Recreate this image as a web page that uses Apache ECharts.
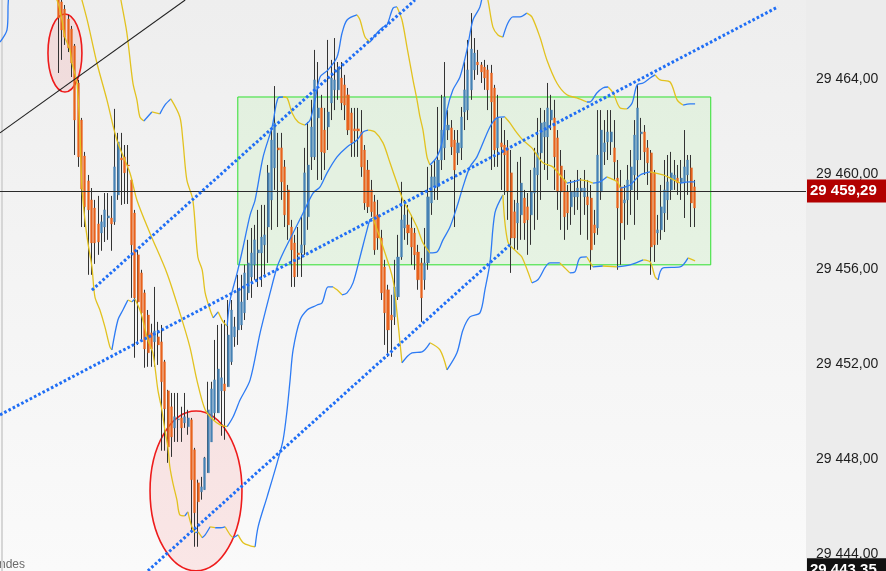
<!DOCTYPE html>
<html><head><meta charset="utf-8">
<script src="https://cdn.jsdelivr.net/npm/echarts@6/dist/echarts.min.js"></script>
<style>html,body{margin:0;padding:0;background:#ececec}#c{width:886px;height:571px}</style>
</head><body><div id="c"></div>
<script>
// ---------- DATA ----------
const SLOTS = 242;            // time slots across the plot
const firstCandle = 17;       // slot of first candle
const open = [
29467.74,29467.24,29466.94,29466.52,29466.10,29465.39,29463.83,29462.27,29460.76,29459.71,
29458.91,29458.57,29457.90,29457.52,29457.77,29458.15,29458.15,29457.99,29459.12,29460.68,
29460.72,29460.38,29459.75,29458.36,29456.60,29455.84,29455.00,29454.07,29453.32,29452.94,
29453.15,29452.94,29452.10,29450.88,29450.21,29449.32,29449.66,29449.74,29449.53,29449.37,
29449.66,29448.40,29447.01,29446.63,29446.72,29447.43,29448.73,29449.95,29449.95,29450.88,
29451.17,29451.05,29452.10,29453.15,29453.44,29453.65,29454.16,29455.00,29455.67,29456.18,
29456.68,29456.68,29457.02,29457.77,29458.91,29460.26,29461.10,29461.10,29460.30,29459.33,
29457.77,29457.10,29456.68,29456.68,29457.02,29458.20,29460.72,29460.72,29462.36,29462.78,
29461.85,29461.98,29462.99,29463.54,29463.54,29464.04,29463.75,29463.33,29462.57,29461.90,
29461.90,29461.77,29461.01,29460.17,29459.33,29458.83,29458.28,29457.31,29456.09,29455.13,
29454.07,29453.99,29454.83,29456.51,29457.73,29457.86,29457.73,29457.52,29456.72,29456.26,
29455.55,29456.26,29458.78,29459.46,29459.46,29460.59,29461.10,29461.85,29461.94,29461.43,
29460.89,29461.10,29462.61,29462.69,29463.54,29464.38,29464.71,29464.59,29464.50,29464.38,
29464.25,29463.62,29461.10,29461.31,29461.22,29461.10,29460.05,29458.41,29457.94,29458.28,
29458.99,29458.62,29458.28,29459.20,29459.96,29460.89,29461.56,29461.56,29462.27,29462.36,
29461.52,29460.34,29459.75,29459.25,29458.62,29459.04,29459.04,29459.25,29459.04,29459.04,
29458.99,29457.86,29457.73,29459.25,29460.93,29461.35,29461.35,29461.10,29459.83,29459.46,
29458.78,29458.91,29459.33,29459.96,29460.59,29461.69,29461.77,29461.10,29460.89,29460.05,
29457.52,29457.65,29458.36,29458.91,29459.33,29459.75,29459.83,29459.62,29459.62,29459.96,
29460.26,29459.46];
const close = [
29466.56,29466.06,29465.76,29465.30,29464.67,29462.27,29460.72,29459.37,29458.62,29458.49,
29457.10,29457.10,29457.14,29457.99,29458.49,29458.24,29457.90,29460.30,29461.35,29460.59,
29460.05,29460.34,29457.02,29454.79,29454.62,29454.16,29452.64,29452.48,29452.64,29453.40,
29452.81,29451.26,29450.12,29448.52,29448.94,29449.79,29449.70,29449.32,29449.79,29449.74,
29447.14,29445.75,29446.21,29446.84,29448.06,29450.08,29450.96,29451.34,29451.80,29451.43,
29450.88,29453.23,29454.28,29453.57,29455.13,29454.62,29455.84,29456.26,29456.68,29457.23,
29456.81,29457.35,29457.44,29460.05,29461.43,29462.15,29461.01,29459.67,29458.28,29457.86,
29456.81,29455.67,29456.60,29457.02,29460.05,29460.38,29461.98,29463.96,29462.78,29460.93,
29460.89,29462.61,29464.04,29463.96,29464.50,29462.99,29462.90,29461.85,29461.31,29461.81,
29461.81,29460.30,29458.78,29458.62,29458.41,29456.81,29457.31,29455.00,29454.16,29453.44,
29453.86,29455.25,29456.51,29458.07,29458.28,29457.52,29456.93,29456.60,29455.55,29454.79,
29456.26,29459.04,29459.88,29459.88,29460.59,29461.85,29463.24,29462.06,29461.14,29460.17,
29461.31,29462.40,29463.54,29464.38,29465.26,29465.09,29464.59,29464.29,29464.04,29463.54,
29463.03,29461.01,29462.36,29461.14,29460.80,29459.25,29457.31,29457.31,29458.78,29459.62,
29457.94,29458.07,29459.25,29460.26,29460.89,29462.15,29462.19,29462.78,29462.69,29460.72,
29459.25,29459.25,29458.20,29458.36,29459.25,29459.25,29459.41,29459.41,29459.41,29458.70,
29456.81,29457.52,29460.80,29461.85,29461.31,29461.77,29461.77,29460.51,29458.57,29457.94,
29458.91,29459.75,29460.30,29461.64,29462.78,29461.77,29460.93,29460.47,29456.93,29457.02,
29457.65,29458.62,29459.33,29459.67,29460.05,29459.96,29459.62,29459.83,29460.30,29460.59,
29458.78,29458.57];
const low = [
29464.25,29464.80,29465.43,29465.13,29464.08,29460.80,29460.30,29457.77,29457.77,29455.76,
29455.76,29456.22,29456.60,29456.77,29457.14,29457.23,29456.77,29457.86,29458.91,29458.70,
29458.74,29458.74,29454.79,29452.27,29452.81,29452.94,29451.85,29451.89,29451.89,29451.89,
29451.97,29448.36,29448.36,29447.85,29448.10,29448.73,29448.73,29448.73,29449.32,29449.03,
29444.91,29444.32,29444.32,29446.30,29446.72,29447.43,29448.73,29449.66,29449.95,29448.99,
29448.82,29451.05,29451.97,29452.73,29452.81,29453.44,29453.86,29454.70,29454.79,29455.55,
29455.25,29455.25,29455.76,29456.26,29457.65,29459.33,29457.77,29458.91,29457.77,29457.23,
29455.25,29455.25,29455.67,29455.67,29456.60,29457.65,29460.17,29460.59,29459.75,29459.75,
29460.17,29461.01,29462.27,29462.69,29463.12,29462.69,29462.27,29461.64,29460.72,29460.72,
29460.72,29459.88,29458.49,29458.36,29458.20,29456.60,29456.81,29454.70,29452.81,29452.31,
29452.31,29453.65,29454.70,29456.39,29457.23,29457.02,29456.18,29455.97,29455.13,29453.78,
29455.13,29455.97,29458.28,29458.91,29458.91,29460.17,29460.59,29461.43,29460.80,29457.77,
29460.38,29460.59,29461.85,29462.27,29463.12,29463.96,29464.17,29463.83,29463.54,29462.69,
29460.17,29460.30,29460.30,29459.33,29459.12,29458.07,29455.84,29456.81,29456.81,29457.23,
29457.23,29456.60,29457.02,29457.65,29458.07,29458.91,29460.17,29459.75,29461.85,29459.33,
29458.49,29457.65,29457.23,29457.65,29457.86,29458.28,29458.49,29457.44,29458.28,29457.23,
29455.97,29457.02,29457.44,29458.91,29460.38,29460.59,29460.80,29459.75,29455.97,29456.18,
29457.23,29457.86,29458.28,29457.86,29458.91,29460.59,29459.96,29459.54,29455.76,29456.30,
29457.02,29457.23,29457.56,29458.07,29458.91,29459.33,29459.12,29458.91,29458.15,29459.12,
29457.77,29457.77];
const high = [
29468.16,29467.53,29467.11,29466.69,29466.23,29465.47,29463.96,29462.36,29460.93,29459.96,
29459.41,29458.91,29459.08,29458.28,29459.20,29459.20,29459.08,29462.74,29461.73,29461.73,
29461.22,29461.22,29459.83,29458.49,29456.81,29455.97,29455.13,29454.28,29453.70,29455.25,
29453.78,29453.65,29452.18,29450.92,29450.79,29450.79,29450.79,29450.21,29450.79,29450.08,
29449.74,29448.48,29447.14,29447.26,29448.10,29451.26,29451.26,29453.02,29453.65,29453.70,
29453.86,29454.70,29454.70,29453.99,29455.76,29455.76,29456.18,29457.23,29457.73,29457.86,
29458.49,29458.70,29458.70,29460.38,29461.94,29463.70,29461.73,29461.73,29460.59,29459.54,
29458.07,29457.44,29457.77,29458.20,29461.10,29462.19,29463.12,29465.22,29464.71,29463.33,
29462.78,29465.64,29464.80,29465.72,29464.71,29464.71,29464.17,29463.62,29462.78,29462.78,
29462.78,29462.69,29461.22,29460.59,29459.75,29459.12,29458.91,29457.65,29456.39,29455.34,
29454.92,29456.39,29457.44,29459.67,29458.91,29458.70,29458.28,29457.73,29457.02,29456.47,
29457.73,29460.30,29460.38,29460.59,29462.82,29463.33,29464.71,29462.69,29462.27,29461.85,
29461.85,29462.82,29464.71,29465.64,29466.77,29465.72,29465.22,29464.71,29464.80,29464.59,
29464.59,29463.75,29463.33,29462.36,29461.85,29461.43,29461.01,29458.91,29460.51,29460.72,
29459.33,29459.20,29460.17,29461.10,29462.36,29462.78,29462.69,29463.83,29463.33,29463.12,
29461.85,29461.01,29460.17,29459.54,29459.75,29459.75,29460.17,29459.83,29460.17,29459.75,
29459.54,29458.49,29462.69,29462.69,29462.27,29462.69,29462.69,29462.27,29460.59,29460.17,
29459.54,29460.38,29461.01,29462.27,29463.75,29462.36,29462.06,29461.43,29461.01,29460.17,
29458.28,29459.54,29460.59,29460.80,29460.93,29460.59,29460.38,29460.59,29461.85,29460.80,
29460.80,29459.75];

// envelope lines: [slot, price]
const bandUpper = [[32.5,29469.84],[35.8,29467.32],[37.6,29465.93],[39.4,29463.83],[40.6,29463.12],[41.5,29462.40],[42.7,29462.23],[45.1,29462.61],[47.5,29462.53],[49.0,29462.90],[50.8,29463.16],[53.5,29462.40],[54.4,29461.43],[55.6,29459.75],[57.4,29458.91],[58.9,29456.51],[60.2,29455.97],[61.1,29455.00],[62.6,29454.28],[63.5,29453.95],[65.0,29454.20],[66.5,29453.78],[67.7,29453.61],[68.6,29454.70],[70.7,29455.84],[72.5,29456.93],[74.6,29458.28],[76.1,29458.91],[78.5,29460.72],[81.2,29461.98],[83.0,29463.20],[84.5,29463.24],[85.7,29463.20],[87.2,29462.57],[89.0,29462.19],[91.1,29462.06],[92.6,29462.27],[94.1,29463.12],[95.6,29464.08],[98.0,29464.38],[100.7,29464.92],[102.2,29465.93],[103.7,29466.48],[106.7,29466.69],[107.6,29466.48],[109.1,29465.76],[110.6,29465.55],[112.7,29465.93],[114.5,29466.18],[115.7,29466.27],[117.5,29466.98],[118.7,29467.03],[120.2,29466.48],[121.7,29465.34],[123.5,29463.96],[124.7,29463.12],[125.6,29462.40],[126.5,29461.85],[127.7,29460.72],[128.6,29460.38],[130.7,29460.72],[132.2,29461.31],[133.7,29462.69],[135.5,29463.54],[137.6,29464.08],[139.7,29465.22],[141.5,29466.48],[143.6,29467.03],[144.8,29467.95],[146.0,29467.32],[147.5,29466.18],[149.0,29465.85],[150.5,29465.76],[152.0,29466.35],[153.5,29466.61],[155.6,29466.61],[157.7,29466.77],[159.2,29466.61],[161.6,29465.76],[163.7,29464.80],[166.7,29463.83],[169.7,29463.33],[172.7,29463.20],[175.7,29463.03],[176.6,29463.03],[178.7,29463.41],[180.5,29463.62],[182.1,29463.66],[183.6,29463.41],[185.7,29462.78],[187.8,29462.74],[189.3,29462.99],[190.8,29463.75],[192.6,29463.83],[194.7,29464.04],[196.2,29464.17],[197.7,29463.96],[200.7,29463.87],[202.8,29463.12],[204.6,29462.90],[206.7,29462.95],[208.2,29462.95]];
const bandMiddle = [[20.5,29469.21],[24.1,29467.32],[25.9,29466.35],[28.6,29464.67],[31.6,29463.12],[34.6,29461.43],[38.5,29460.05],[40.6,29458.91],[44.5,29457.52],[49.6,29455.84],[53.5,29454.16],[56.5,29452.73],[58.6,29451.34],[61.1,29450.08],[63.5,29449.66],[65.6,29449.45],[67.7,29449.37],[69.5,29449.79],[71.6,29450.50],[74.6,29451.34],[77.6,29453.32],[80.6,29455.00],[82.7,29456.09],[84.5,29456.68],[87.5,29457.52],[90.5,29458.36],[93.5,29459.20],[95.6,29459.46],[97.7,29460.05],[100.7,29460.72],[103.7,29461.14],[106.7,29461.43],[108.5,29461.77],[110.0,29461.85],[112.1,29461.77],[114.5,29461.31],[116.6,29460.47],[118.7,29459.62],[120.5,29458.91],[122.6,29458.36],[124.7,29457.77],[126.5,29457.10],[128.6,29456.68],[130.7,29456.72],[132.5,29457.23],[134.6,29457.77],[136.7,29458.62],[138.5,29459.46],[140.6,29460.30],[142.7,29460.72],[146.6,29461.98],[148.7,29462.36],[151.1,29462.40],[152.6,29462.15],[154.7,29461.73],[156.5,29461.43],[159.2,29461.10],[160.7,29460.80],[162.5,29460.47],[165.5,29460.30],[167.6,29459.96],[169.7,29459.62],[171.5,29459.67],[173.6,29459.75],[175.7,29459.71],[177.5,29459.62],[179.6,29459.67],[181.7,29459.88],[184.8,29459.67],[185.7,29459.41],[188.7,29459.54],[191.7,29459.96],[194.7,29460.09],[198.6,29459.96],[200.7,29459.83],[203.7,29459.62],[206.7,29459.67],[208.2,29459.67]];
const bandLower = [[-0.5,29465.55],[1.6,29466.06],[2.2,29467.53],[9.5,29469.20],[16.6,29467.32],[18.1,29466.48],[19.0,29465.76],[20.5,29465.22],[21.1,29464.67],[22.6,29463.83],[23.5,29461.73],[24.1,29459.46],[25.0,29458.07],[25.9,29457.10],[27.1,29456.09],[28.0,29454.83],[29.5,29454.28],[31.0,29453.57],[32.5,29452.73],[33.1,29452.60],[34.9,29453.86],[36.4,29454.28],[37.9,29454.70],[39.1,29454.62],[40.0,29454.75],[41.5,29454.28],[42.4,29453.86],[43.9,29453.02],[45.4,29452.48],[46.9,29450.92],[48.1,29450.08],[49.0,29449.24],[49.9,29448.52],[50.5,29447.68],[51.4,29447.01],[52.6,29446.30],[53.5,29445.66],[55.0,29445.62],[55.9,29445.79],[57.1,29445.16],[58.1,29444.91],[59.0,29444.95],[60.2,29444.70],[61.1,29444.82],[62.6,29445.16],[64.1,29445.12],[65.6,29445.12],[67.1,29445.16],[68.6,29444.82],[69.5,29444.70],[71.0,29444.82],[72.5,29444.49],[74.6,29444.36],[76.1,29444.32],[77.0,29445.16],[79.7,29446.42],[82.7,29447.85],[84.5,29448.82],[85.7,29450.08],[86.6,29451.34],[87.5,29452.60],[89.6,29453.86],[91.7,29454.28],[93.5,29454.41],[94.7,29454.49],[96.2,29454.58],[98.0,29455.25],[99.5,29455.25],[100.7,29455.13],[102.2,29454.92],[103.7,29455.00],[105.5,29455.42],[107.6,29456.51],[109.7,29457.65],[110.6,29458.07],[111.5,29458.15],[114.5,29456.93],[117.5,29455.55],[118.7,29454.16],[119.6,29452.90],[120.2,29452.06],[123.2,29452.48],[126.2,29452.52],[128.6,29452.90],[131.6,29452.60],[133.7,29451.76],[136.7,29452.48],[138.5,29453.44],[140.6,29453.99],[143.6,29454.16],[145.1,29455.13],[146.6,29456.26],[148.1,29458.36],[150.5,29459.12],[152.0,29457.14],[154.7,29456.72],[156.2,29456.51],[159.2,29455.42],[161.0,29455.55],[164.6,29456.26],[167.6,29456.26],[170.6,29455.84],[172.1,29455.88],[173.6,29456.47],[175.7,29456.51],[177.5,29456.09],[180.5,29456.13],[184.8,29456.09],[188.7,29456.18],[192.6,29456.39],[194.7,29456.30],[196.2,29455.67],[197.1,29455.55],[198.6,29456.05],[203.7,29456.09],[206.1,29456.47],[208.2,29456.35]];

const yTicks = [29444, 29448, 29452, 29456, 29460, 29464];
const lastPrice = 29459.29;
const lowPrice = 29443.35;
// annotations in data coordinates [slot, price]
const dottedTrends = [
  [[27.1, 29455.12], [124.1, 29467.32]],
  [[-0.5, 29449.87], [233.1, 29467.03]],
  [[43.9, 29443.31], [152.6, 29457.02]]
];
const solidTrends = [[[-0.5, 29461.73], [55.1, 29467.32]]];
const zoneBox = [[70.9, 29463.24], [212.9, 29456.18]];
const ellipses = [[19.0, 29465.09, 5.1, 1.64], [58.35, 29446.67, 13.8, 3.36]]; // cx, cy, rx, ry
const footText = 'ndes';

// ---------- CHART ----------
function fmt(v) {
  const p = Number(v).toFixed(2).split('.');
  return p[0].replace(/\B(?=(\d{3})+(?!\d))/g, ' ') + ',' + p[1];
}
const FONT = 'Liberation Sans, Arial, sans-serif';
const BLUE = '#2d7bf4', YELLOW = '#e2c21f';
const UP = '#4682b4', DOWN = '#e8621c';

const slotNames = Array.from({length: SLOTS}, (_, k) => String(k));
const wick = open.map((o, j) => [firstCandle + j, o, close[j], low[j], high[j]]);
const body = open.map((o, j) => [firstCandle + j, o, close[j], Math.min(o, close[j]), Math.max(o, close[j])]);

function runs(pts) {
  const out = []; let cur = [pts[0]], dir = null;
  for (let k = 1; k < pts.length; k++) {
    const d = pts[k][1] >= pts[k - 1][1] ? 'up' : 'down';
    if (dir === null || d === dir) { cur.push(pts[k]); dir = d; }
    else { out.push({dir, pts: cur}); cur = [pts[k - 1], pts[k]]; dir = d; }
  }
  out.push({dir, pts: cur});
  return out;
}

const series = [];
// green zone
series.push({
  type: 'line', xAxisIndex: 1, data: zoneBox, symbol: 'none', lineStyle: {width: 0, opacity: 0},
  silent: true, z: 1,
  markArea: {silent: true, itemStyle: {color: 'rgba(150,240,130,0.14)', borderColor: '#2ee02e', borderWidth: 1},
    data: [[{coord: zoneBox[0]}, {coord: zoneBox[1]}]]}
});
// ellipses
series.push({
  type: 'custom', xAxisIndex: 1, data: ellipses, z: 2, silent: true, clip: true,
  encode: {x: 0, y: 1},
  renderItem: function (params, api) {
    const c = api.coord([api.value(0), api.value(1)]);
    const s = api.size([api.value(2), api.value(3)]);
    return {type: 'ellipse', shape: {cx: c[0], cy: c[1], rx: s[0], ry: s[1]},
      style: {fill: 'rgba(255,60,60,0.10)', stroke: '#ee1b1b', lineWidth: 1.6}};
  }
});
// wicks
series.push({
  type: 'candlestick', xAxisIndex: 0, data: wick, encode: {x: 0, y: [1, 2, 3, 4]},
  barWidth: 1, z: 3, silent: true,
  itemStyle: {color: '#333', color0: '#333', borderColor: '#333', borderColor0: '#333', borderWidth: 1}
});
// bodies
const labelBase = {show: true, position: 'end', color: '#fff', fontWeight: 'bold', fontSize: 15,
  fontFamily: FONT, padding: [4, 12, 4, 3], distance: 1};
series.push({
  type: 'candlestick', xAxisIndex: 0, data: body, encode: {x: 0, y: [1, 2, 3, 4]},
  barWidth: 2.6, z: 3, silent: true,
  itemStyle: {color: UP, color0: DOWN, borderColor: UP, borderColor0: DOWN, borderWidth: 0.3},
  markLine: {
    symbol: 'none', silent: true, animation: false,
    data: [
      {yAxis: lastPrice, lineStyle: {color: '#2a2a2a', width: 1, type: 'solid'},
        label: Object.assign({}, labelBase, {formatter: fmt(lastPrice), backgroundColor: '#b20000'})},
      {yAxis: lowPrice, lineStyle: {color: 'rgba(0,0,0,0)', width: 0},
        label: Object.assign({}, labelBase, {formatter: fmt(lowPrice), backgroundColor: '#111'})}
    ]
  }
});
// envelope lines, coloured by direction
[bandUpper, bandMiddle, bandLower].forEach(line => {
  runs(line).forEach(r => series.push({
    type: 'line', xAxisIndex: 1, data: r.pts, symbol: 'none', smooth: 0.3, silent: true, z: 4,
    lineStyle: {color: r.dir === 'up' ? BLUE : YELLOW, width: 1.3}
  }));
});
// trend lines
dottedTrends.forEach(t => series.push({
  type: 'line', xAxisIndex: 1, data: t, symbol: 'none', silent: true, z: 5,
  lineStyle: {color: '#1f6ef5', width: 3, type: [2.6, 2.2]}
}));
solidTrends.forEach(t => series.push({
  type: 'line', xAxisIndex: 1, data: t, symbol: 'none', silent: true, z: 5,
  lineStyle: {color: '#222', width: 1.1}
}));

const chart = echarts.init(document.getElementById('c'), null, {renderer: 'canvas'});
chart.setOption({
  animation: false,
  backgroundColor: '#ececec',
  grid: {left: 0, right: 80, top: 0, bottom: 0, show: true, borderWidth: 0,
    backgroundColor: new echarts.graphic.LinearGradient(0, 0, 0, 1,
      [{offset: 0, color: '#eeeeee'}, {offset: 1, color: '#fafafa'}])},
  xAxis: [
    {type: 'category', data: slotNames, boundaryGap: true, show: false},
    {type: 'value', min: -0.5, max: SLOTS - 0.5, show: false}
  ],
  yAxis: {
    type: 'value', position: 'right', min: 29443.30, max: 29467.32,
    axisLine: {show: true, lineStyle: {color: '#d6d6d6', width: 2}},
    axisTick: {show: false}, splitLine: {show: false},
    axisLabel: {customValues: yTicks, formatter: fmt, color: '#1e1e1e', fontSize: 14,
      fontFamily: FONT, margin: 10}
  },
  graphic: [{type: 'text', left: -1, top: 559, silent: true,
    style: {text: footText, fill: '#6a6a6a', font: '12px ' + FONT}}],
  series: series
});
</script>
</body></html>
